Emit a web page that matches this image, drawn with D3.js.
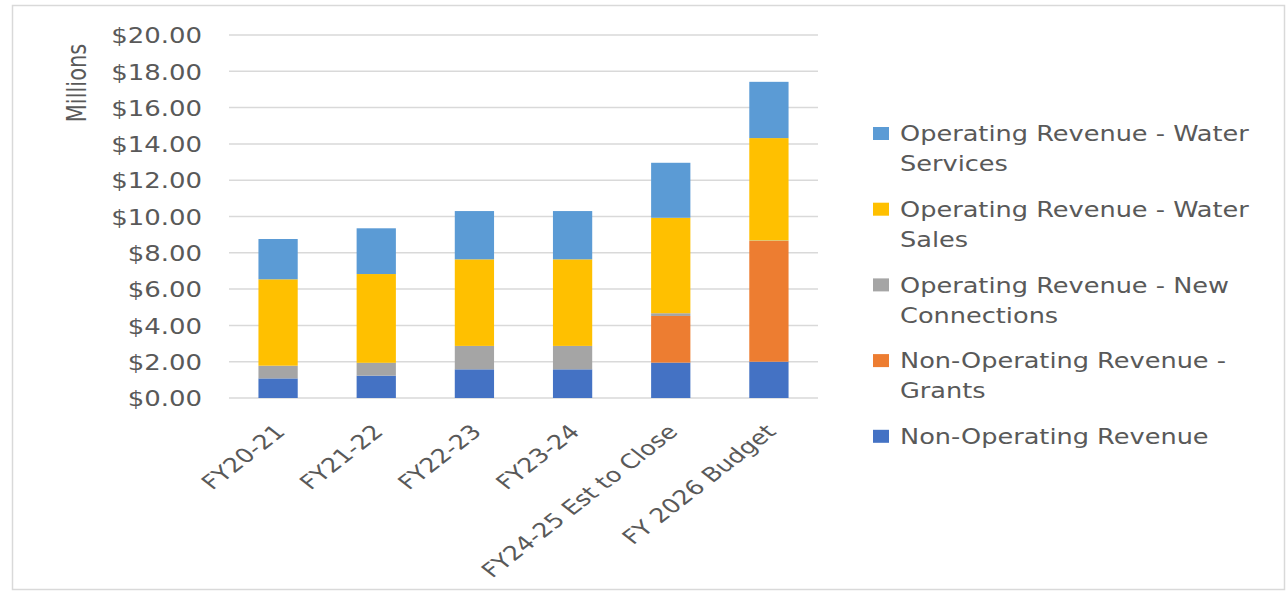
<!DOCTYPE html>
<html lang="en">
<head>
  <meta charset="UTF-8">
  <title>Revenue by Fiscal Year</title>
  <style>
    body { margin: 0; background: #fff; }
    text { font-family: 'DejaVu Sans', sans-serif; fill: #595959; }
  </style>
</head>
<body>
  <div class="workspace"></div>
  <script src="https://cdn.jsdelivr.net/npm/d3@7"></script>
  <script>
    // categories + series (millions)
    const years = ['FY20-21', 'FY21-22', 'FY22-23', 'FY23-24', 'FY24-25 Est to Close', 'FY 2026 Budget']
    const nonOperating = [1.08, 1.23, 1.58, 1.58, 1.95, 2.00]
    const grants = [0, 0, 0, 0, 2.57, 6.65]
    const newConnections = [0.70, 0.71, 1.29, 1.29, 0.15, 0.03]
    const waterSales = [4.76, 4.89, 4.77, 4.77, 5.26, 5.64]
    const waterServices = [2.22, 2.52, 2.66, 2.66, 3.03, 3.10]
    const yTicks = [0, 2, 4, 6, 8, 10, 12, 14, 16, 18, 20]

    // bottom to top in stack
    const series = [
      { key: 'nonop', name: ['Non-Operating Revenue'], color: '#4472C4', values: nonOperating },
      { key: 'grants', name: ['Non-Operating Revenue -', 'Grants'], color: '#ED7D31', values: grants },
      { key: 'conn', name: ['Operating Revenue - New', 'Connections'], color: '#A5A5A5', values: newConnections },
      { key: 'sales', name: ['Operating Revenue - Water', 'Sales'], color: '#FFC000', values: waterSales },
      { key: 'services', name: ['Operating Revenue - Water', 'Services'], color: '#5B9BD5', values: waterServices }
    ]

    const width = 1288, height = 592
    const plot = { left: 229, right: 818, top: 35, bottom: 398 }
    const stretch = 1.22 // source image is wider than tall, text looks stretched

    const table = years.map((y, i) => {
      const row = { year: y }
      series.forEach(s => { row[s.key] = s.values[i] })
      return row
    })
    const stacked = d3.stack().keys(series.map(s => s.key))(table)

    const svg = d3.select('.workspace').append('svg')
      .attr('width', width)
      .attr('height', height)

    // chart frame
    svg.append('rect')
      .attr('x', 12.5).attr('y', 5.5)
      .attr('width', 1272).attr('height', 584)
      .attr('fill', '#fff')
      .attr('stroke', '#d9d9d9')
      .attr('stroke-width', 1.5)

    const x = d3.scaleBand()
      .domain(years)
      .range([plot.left, plot.right])
      .paddingInner(0.6)
      .paddingOuter(0.3)

    const y = d3.scaleLinear()
      .domain([0, 20])
      .range([plot.bottom, plot.top])

    // gridlines
    svg.append('g')
      .selectAll('line')
      .data(yTicks)
      .enter().append('line')
      .attr('x1', plot.left).attr('x2', plot.right)
      .attr('y1', d => y(d)).attr('y2', d => y(d))
      .attr('stroke', '#d9d9d9')
      .attr('stroke-width', 1.5)

    // y axis labels
    const yAxis = svg.append('g')
      .attr('transform', `translate(${plot.left - 27},0)`)
      .call(d3.axisLeft(y).tickValues(yTicks).tickSize(0).tickFormat(d => '$' + d3.format('.2f')(d)))
    yAxis.select('.domain').remove()
    yAxis.selectAll('text')
      .attr('font-size', 22)
      .attr('font-family', "'DejaVu Sans', sans-serif")
      .attr('fill', '#595959')
      .attr('x', 0)
      .attr('dy', '0.35em')
      .attr('transform', 'scale(1.18,1)')

    svg.append('text')
      .attr('transform', `translate(86,83) scale(1.3,1) rotate(-90)`)
      .attr('text-anchor', 'middle')
      .attr('font-size', 21)
      .text('Millions')

    // bars
    svg.append('g')
      .selectAll('g')
      .data(stacked)
      .enter().append('g')
      .attr('fill', (d, i) => series[i].color)
      .selectAll('rect')
      .data(d => d)
      .enter().append('rect')
      .attr('x', d => x(d.data.year))
      .attr('width', x.bandwidth())
      .attr('y', d => y(d[1]))
      .attr('height', d => y(d[0]) - y(d[1]))

    // x axis labels
    const xAxis = svg.append('g')
      .attr('transform', `translate(0,${plot.bottom})`)
      .call(d3.axisBottom(x).tickSize(0))
    xAxis.select('.domain').remove()
    xAxis.selectAll('text')
      .attr('font-size', 20)
      .attr('font-family', "'DejaVu Sans', sans-serif")
      .attr('fill', '#595959')
      .attr('text-anchor', 'end')
      .attr('transform', 'translate(2,30) scale(1.28,1) rotate(-45)')
      .attr('y', 0)
      .attr('dy', '0.35em')

    // legend, top to bottom reverse of stack
    const legend = svg.append('g').attr('transform', 'translate(873,134)')
    const item = legend.selectAll('g')
      .data(series.slice().reverse())
      .enter().append('g')
      .attr('transform', (d, i) => `translate(0,${i * 75.7})`)
    item.append('rect')
      .attr('x', 0).attr('y', -7)
      .attr('width', 16).attr('height', 13)
      .attr('fill', d => d.color)
    item.selectAll('text')
      .data(d => d.name)
      .enter().append('text')
      .attr('transform', (d, i) => `translate(27,${i * 30}) scale(${stretch},1)`)
      .attr('dy', '0.35em')
      .attr('font-size', 21)
      .text(d => d)
  </script>
</body>
</html>
